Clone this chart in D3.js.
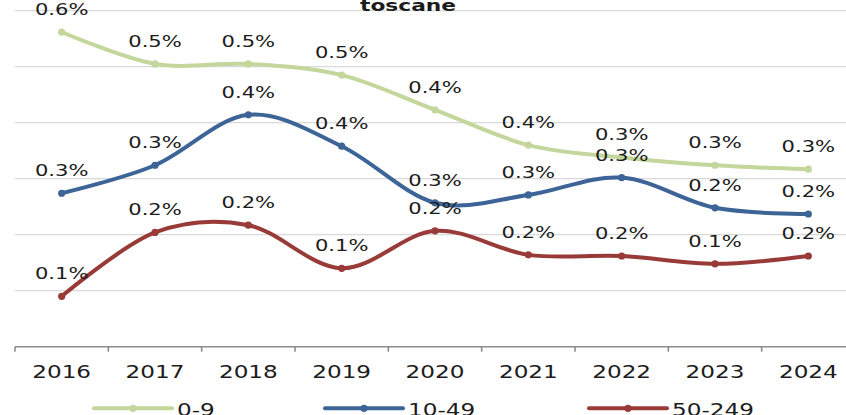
<!DOCTYPE html>
<html>
<head>
<meta charset="utf-8">
<script src="https://cdn.jsdelivr.net/npm/d3@7"></script>
<style>
  html, body { margin: 0; padding: 0; background: #fff; }
  svg { display: block; }
  text { font-family: "DejaVu Sans", Verdana, sans-serif; fill: #1c1c1c; }
</style>
</head>
<body>
<svg id="chart" width="846" height="415"></svg>
<script>
// Share of firms by size class, Toscane (values in %)
const years = ["2016", "2017", "2018", "2019", "2020", "2021", "2022", "2023", "2024"];
const seriesNames = ["0-9", "10-49", "50-249"];
const seriesColors = ["#c3d69b", "#3c6496", "#983a37"];
const values0to9   = [0.562, 0.505, 0.505, 0.485, 0.423, 0.360, 0.338, 0.324, 0.317];
const values10to49 = [0.274, 0.324, 0.414, 0.358, 0.257, 0.271, 0.302, 0.248, 0.237];
const values50to249 = [0.090, 0.204, 0.217, 0.140, 0.207, 0.164, 0.162, 0.148, 0.162];
const gridValues = [0.1, 0.2, 0.3, 0.4, 0.5, 0.6];
const chartTitle = "toscane";

const series = [values0to9, values10to49, values50to249].map((vals, i) => ({
  name: seriesNames[i],
  color: seriesColors[i],
  points: vals.map((v, j) => ({ year: years[j], value: v }))
}));

const svg = d3.select("#chart");
const STRETCH = 1.36; // wide lettering
const plotLeft = 15, plotRight = 855, plotTop = 10.7, plotBottom = 346.7;

const xBand = d3.scaleBand().domain(years).range([plotLeft, plotRight]);
const x = d3.scalePoint().domain(years).range([plotLeft, plotRight]).padding(0.5);
const y = d3.scaleLinear().domain([0, 0.6]).range([plotBottom, plotTop]);
const fmt = v => d3.format(".1%")(v / 100);

// horizontal gridlines
svg.append("g")
  .selectAll("line")
  .data(gridValues)
  .join("line")
  .attr("x1", plotLeft).attr("x2", plotRight)
  .attr("y1", d => y(d)).attr("y2", d => y(d))
  .attr("stroke", "#d9d9d9").attr("stroke-width", 1.3);

// category axis
const xAxis = svg.append("g")
  .attr("transform", `translate(0,${plotBottom})`)
  .call(d3.axisBottom(xBand).tickSize(0).tickPadding(14));
xAxis.select(".domain").remove();
xAxis.selectAll("text")
  .attr("font-size", 17)
  .attr("fill", "#1c1c1c")
  .attr("dy", "0.71em")
  .attr("y", 19.5)
  .attr("transform", `scale(${STRETCH},1)`)
  .style("font-family", "'DejaVu Sans', Verdana, sans-serif");
xAxis.append("line")
  .attr("x1", plotLeft).attr("x2", plotRight)
  .attr("stroke", "#8c8c8c").attr("stroke-width", 1.6);
xAxis.append("g")
  .selectAll("line")
  .data(d3.range(years.length + 1))
  .join("line")
  .attr("x1", i => plotLeft + i * xBand.step())
  .attr("x2", i => plotLeft + i * xBand.step())
  .attr("y1", 0).attr("y2", 5)
  .attr("stroke", "#8c8c8c").attr("stroke-width", 1.6);

// smoothed lines with markers
const line = d3.line()
  .x(d => x(d.year))
  .y(d => y(d.value))
  .curve(d3.curveCatmullRom.alpha(0));

const sg = svg.append("g")
  .selectAll("g")
  .data(series)
  .join("g");

sg.append("path")
  .attr("d", d => line(d.points))
  .attr("fill", "none")
  .attr("stroke", d => d.color)
  .attr("stroke-width", 4)
  .attr("stroke-linecap", "round")
  .attr("stroke-linejoin", "round");

sg.selectAll("circle")
  .data(d => d.points.map(p => ({ ...p, color: d.color })))
  .join("circle")
  .attr("cx", d => x(d.year))
  .attr("cy", d => y(d.value))
  .attr("r", 3.6)
  .attr("fill", d => d.color);

// value labels above each point
sg.selectAll("text.lbl")
  .data(d => d.points)
  .join("text")
  .attr("class", "lbl")
  .attr("text-anchor", "middle")
  .attr("font-size", 15.5)
  .attr("transform", d => `translate(${x(d.year)},${y(d.value) - 17}) scale(${STRETCH},1)`)
  .text(d => fmt(d.value));

// title
svg.append("text")
  .attr("text-anchor", "middle")
  .attr("font-size", 16)
  .attr("font-weight", "bold")
  .attr("transform", `translate(408,10.5) scale(${STRETCH},1)`)
  .text(chartTitle);

// legend
const legendX = [94, 325, 589];
const lg = svg.append("g")
  .selectAll("g")
  .data(series)
  .join("g")
  .attr("transform", (d, i) => `translate(${legendX[i]},408.3)`);
lg.append("line")
  .attr("x1", 0).attr("x2", 78)
  .attr("stroke", d => d.color).attr("stroke-width", 4)
  .attr("stroke-linecap", "round");
lg.append("circle")
  .attr("cx", 39).attr("r", 3.6)
  .attr("fill", d => d.color);
lg.append("text")
  .attr("font-size", 17)
  .attr("transform", `translate(83,7.8) scale(${STRETCH},1)`)
  .text(d => d.name);
</script>
</body>
</html>
